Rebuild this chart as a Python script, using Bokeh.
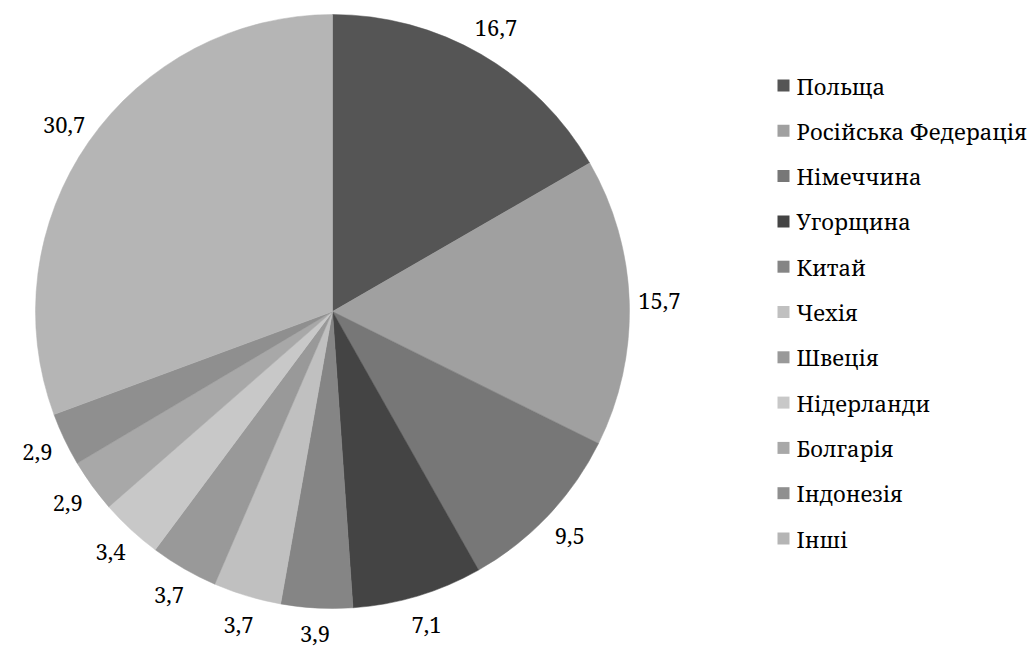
import math
from bokeh.plotting import figure
from bokeh.models import ColumnDataSource
from bokeh.core.properties import value
from bokeh.embed import file_html
from bokeh.resources import INLINE

countries = ["Польща", "Російська Федерація", "Німеччина", "Угорщина", "Китай",
             "Чехія", "Швеція", "Нідерланди", "Болгарія", "Індонезія", "Інші"]
shares = [16.7, 15.7, 9.5, 7.1, 3.9, 3.7, 3.7, 3.4, 2.9, 2.9, 30.7]
labels = ["16,7", "15,7", "9,5", "7,1", "3,9", "3,7", "3,7", "3,4", "2,9", "2,9", "30,7"]
colors = ["#555555", "#a0a0a0", "#777777", "#444444", "#858585", "#c0c0c0",
          "#999999", "#c8c8c8", "#a8a8a8", "#8f8f8f", "#b5b5b5"]

W, H = 1033, 650
cx, cy, R = 332, H - 311, 297
FONT = "Noto Serif"

total = sum(shares)
starts, ends, lx, ly = [], [], [], []
cum = 0.0
for v in shares:
    a0 = math.pi / 2 - 2 * math.pi * cum / total
    cum += v
    a1 = math.pi / 2 - 2 * math.pi * cum / total
    starts.append(a0)
    ends.append(a1)
    mid = (a0 + a1) / 2
    lr = R + 30
    lx.append(cx + lr * math.cos(mid))
    ly.append(min(cy + lr * math.sin(mid), H - 22) if math.sin(mid) > 0 else max(cy + lr * math.sin(mid), 17))

src = ColumnDataSource(dict(start=starts, end=ends, color=colors, lx=lx, ly=ly, label=labels))

p = figure(width=W, height=H, x_range=(0, W), y_range=(0, H), output_backend="svg",
           toolbar_location=None, min_border=0)
p.axis.visible = False
p.grid.visible = False
p.outline_line_color = None

p.wedge(x=cx, y=cy, radius=R, start_angle="start", end_angle="end", direction="clock",
        fill_color="color", line_color="color", line_width=0.5, source=src)
p.text(x="lx", y="ly", text="label", source=src, text_align="center", text_baseline="middle",
       text_font=value(FONT), text_font_size="22px", text_color="#000000")

# legend
lg_y = [H - (85 + 45.3 * i) for i in range(len(countries))]
lsrc = ColumnDataSource(dict(y=lg_y, name=countries, color=colors))
p.rect(x=783, y="y", width=12, height=12, fill_color="color", line_color=None, source=lsrc)
p.text(x=796, y="y", text="name", source=lsrc, text_align="left", text_baseline="middle",
       text_font=value(FONT), text_font_size="22px", text_color="#000000")

open("out.html", "w").write(file_html(p, INLINE))
